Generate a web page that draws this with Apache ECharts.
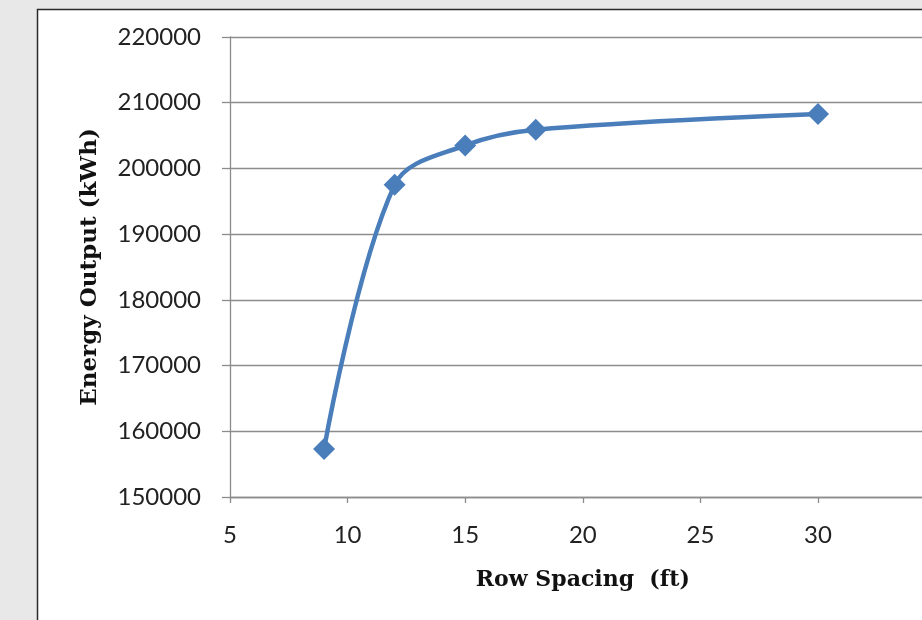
<!DOCTYPE html>
<html>
<head>
<meta charset="utf-8">
<script src="https://cdn.jsdelivr.net/npm/echarts@6/dist/echarts.min.js"></script>
<style>
html,body{margin:0;padding:0;background:#e8e8e8;}
#chart{width:922px;height:620px;}
</style>
</head>
<body>
<div id="chart"></div>
<script>
const rowSpacing = [9, 12, 15, 18, 30];
const energyOutput = [157300, 197500, 203500, 205900, 208300];
const xTitle = 'Row Spacing  (ft)';
const yTitle = 'Energy Output (kWh)';

const chart = echarts.init(document.getElementById('chart'));
const points = rowSpacing.map((x, i) => [x, energyOutput[i]]);
chart.setOption({
  backgroundColor: '#e8e8e8',
  animation: false,
  graphic: [{
    type: 'rect',
    z: -10,
    shape: { x: 37.5, y: 9.5, width: 1000, height: 700 },
    style: { fill: '#ffffff', stroke: '#2a2a2a', lineWidth: 1.5 }
  }],
  grid: { left: 230, top: 37, bottom: 123, right: -13.6, containLabel: false, outerBoundsMode: 'none' },
  xAxis: {
    type: 'value', min: 5, max: 35, interval: 5,
    name: xTitle, nameLocation: 'middle', nameGap: 72,
    nameTextStyle: { fontFamily: 'DejaVu Serif', fontWeight: 'bold', fontSize: 22, color: '#111' },
    axisLine: { show: true, lineStyle: { color: '#8c8c8c', width: 1.3 } },
    axisTick: { show: true, length: 6, lineStyle: { color: '#8c8c8c', width: 1.3 } },
    axisLabel: { fontFamily: 'Lato', fontSize: 24, color: '#222', margin: 26, formatter: v => String(v) },
    splitLine: { show: false }
  },
  yAxis: {
    type: 'value', min: 150000, max: 220000, interval: 10000,
    name: yTitle, nameLocation: 'middle', nameGap: 128, nameRotate: 90,
    nameTextStyle: { fontFamily: 'DejaVu Serif', fontWeight: 'bold', fontSize: 23, color: '#111' },
    axisLine: { show: true, lineStyle: { color: '#8c8c8c', width: 1.3 } },
    axisTick: { show: true, length: 8, lineStyle: { color: '#8c8c8c', width: 1.3 } },
    axisLabel: { fontFamily: 'Lato', fontSize: 24, color: '#222', margin: 29, formatter: v => String(v) },
    splitLine: { show: true, lineStyle: { color: '#8c8c8c', width: 1.3 } }
  },
  series: [{
    type: 'line',
    data: points,
    smooth: 0.35,
    symbol: 'diamond',
    symbolSize: 22,
    lineStyle: { color: '#4a7ebb', width: 4.5 },
    itemStyle: { color: '#4a7ebb' }
  }]
});
</script>
</body>
</html>
